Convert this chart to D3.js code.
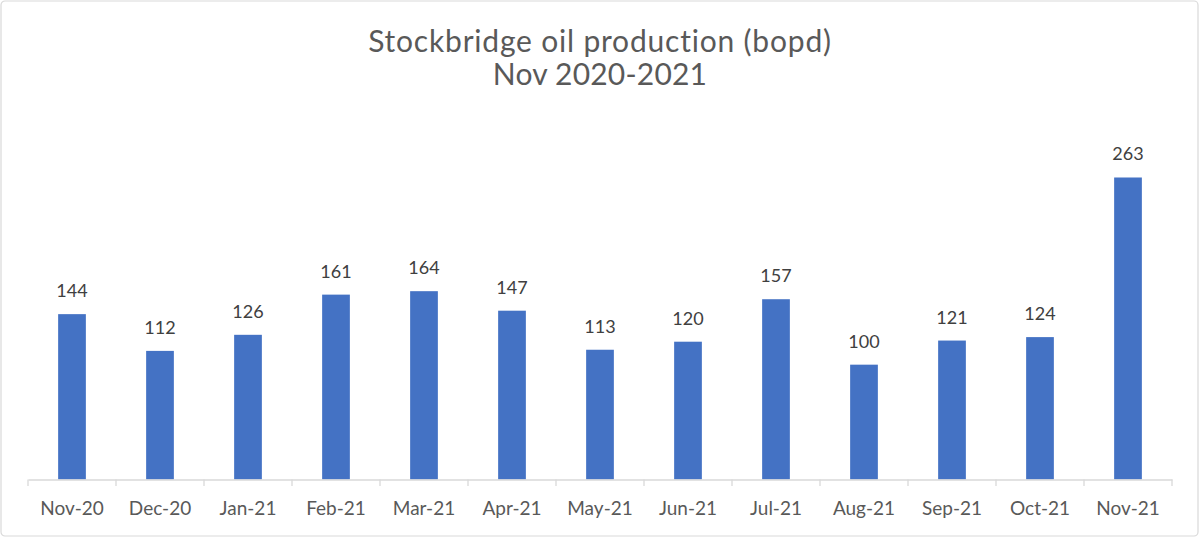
<!DOCTYPE html>
<html><head><meta charset="utf-8">
<script src="https://cdn.jsdelivr.net/npm/d3@7"></script>
<style>html,body{margin:0;padding:0;background:#fff;}svg{display:block;}</style>
</head><body>
<svg id="c" width="1200" height="538"></svg>
<script>
const months = ["Nov-20","Dec-20","Jan-21","Feb-21","Mar-21","Apr-21","May-21","Jun-21","Jul-21","Aug-21","Sep-21","Oct-21","Nov-21"];
const production = [144,112,126,161,164,147,113,120,157,100,121,124,263];
const titleLines = ["Stockbridge oil production (bopd)","Nov 2020-2021"];
const yDomain = [0,300];

const svg = d3.select("#c");
const font = "Lato, 'Open Sans', sans-serif";
svg.append("rect").attr("x",1).attr("y",1).attr("width",1197).attr("height",535)
  .attr("rx",4).attr("fill","#fff").attr("stroke","#d9d9d9").attr("stroke-width",1.2);

const x0 = 28, x1 = 1172, yBase = 479.5;
const x = d3.scaleBand().domain(months).range([x0,x1]).paddingInner(0.685).paddingOuter(0.3425);
const y = d3.scaleLinear().domain(yDomain).range([yBase, yBase - 300*1.1483]);

svg.append("g").selectAll("rect").data(production).join("rect")
  .attr("x",(d,i)=>x(months[i])).attr("width",x.bandwidth())
  .attr("y",d=>y(d)).attr("height",d=>y(0)-y(d)).attr("fill","#4472C4");

svg.append("g").selectAll("text").data(production).join("text")
  .attr("x",(d,i)=>x(months[i])+x.bandwidth()/2).attr("y",d=>y(d)-17)
  .attr("text-anchor","middle").attr("font-family",font).attr("font-size",18)
  .attr("fill","#404040").text(d=>d);

// category axis
const band = d3.scaleBand().domain(months).range([x0,x1]);
const axis = d3.axisBottom(band).tickSize(0).tickSizeOuter(0);
const ag = svg.append("g").attr("transform",`translate(0,${yBase})`).call(axis);
ag.select(".domain").attr("stroke","#d9d9d9").attr("stroke-width",1.3);
ag.selectAll(".tick text").attr("font-family",font).attr("font-size",19).attr("fill","#595959").attr("dy",0).attr("y",35.5);
const bounds = months.map(m=>band(m)).concat([x1]);
svg.append("g").selectAll("line").data(bounds).join("line")
  .attr("x1",d=>d).attr("x2",d=>d).attr("y1",yBase).attr("y2",yBase+6.5)
  .attr("stroke","#d9d9d9").attr("stroke-width",1.3);

const ty = [52,85], ls = [0.8,0.2];
svg.append("g").selectAll("text").data(titleLines).join("text")
  .attr("x",600).attr("y",(d,i)=>ty[i]).attr("text-anchor","middle")
  .attr("letter-spacing",(d,i)=>ls[i])
  .attr("font-family",font).attr("font-size",30).attr("fill","#595959").text(d=>d);
</script>
</body></html>
